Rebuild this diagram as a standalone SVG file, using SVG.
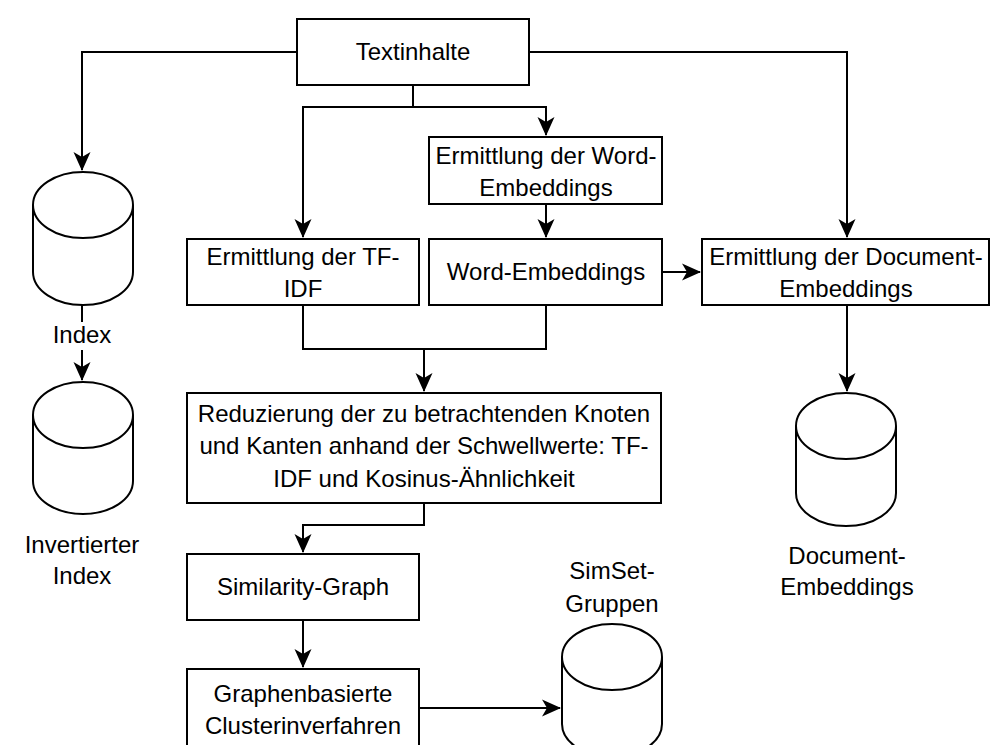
<svg xmlns="http://www.w3.org/2000/svg" width="991" height="745" viewBox="0 0 991 745">
<style>
  .box { fill: #fff; stroke: #000; stroke-width: 2; }
  .cyl { fill: #fff; stroke: #000; stroke-width: 2; }
  .edge { fill: none; stroke: #000; stroke-width: 2; }
  text { font-family: "Liberation Sans", Arial, sans-serif; font-size: 24px; fill: #000; text-anchor: middle; }
</style>
<defs>
  <marker id="arr" markerUnits="userSpaceOnUse" viewBox="0 0 19 18" markerWidth="19" markerHeight="18" refX="18" refY="9" orient="auto">
    <path d="M0,0.5 L19,9 L0,17.5 L5,9 Z" fill="#000"/>
  </marker>
</defs>
<rect width="991" height="745" fill="#fff"/>

<g id="connectors">
  <path class="edge" d="M297,52 H82 V170" marker-end="url(#arr)"/>
  <path class="edge" d="M413,85 V107 H303 V237" marker-end="url(#arr)"/>
  <path class="edge" d="M413,107 H546 V135" marker-end="url(#arr)"/>
  <path class="edge" d="M529,52 H847 V237" marker-end="url(#arr)"/>
  <path class="edge" d="M546,204 V237" marker-end="url(#arr)"/>
  <path class="edge" d="M662,272 H700" marker-end="url(#arr)"/>
  <path class="edge" d="M82,305 V380" marker-end="url(#arr)"/>
  <path class="edge" d="M303,305 V349 H424 V391" marker-end="url(#arr)"/>
  <path class="edge" d="M546,305 V349 H424"/>
  <path class="edge" d="M847,305 V391" marker-end="url(#arr)"/>
  <path class="edge" d="M424,503 V525 H303 V552" marker-end="url(#arr)"/>
  <path class="edge" d="M303,620 V667" marker-end="url(#arr)"/>
  <path class="edge" d="M419,708 H560" marker-end="url(#arr)"/>
  <rect x="52" y="322" width="60" height="28" fill="#fff"/>
  <text x="82" y="343">Index</text>
</g>

<g id="textinhalte">
  <rect class="box" x="297" y="19" width="232" height="66"/>
  <text x="413" y="60">Textinhalte</text>
</g>

<g id="index-db">
  <path class="cyl" d="M33,205 A50,33 0 0 1 133,205 V272 A50,33 0 0 1 33,272 Z"/>
  <path class="edge" d="M33,205 A50,33 0 0 0 133,205"/>
</g>

<g id="inv-index-db">
  <path class="cyl" d="M33,415 A50,33 0 0 1 133,415 V481 A50,33 0 0 1 33,481 Z"/>
  <path class="edge" d="M33,415 A50,33 0 0 0 133,415"/>
  <text x="82" y="553">Invertierter</text>
  <text x="82" y="584">Index</text>
</g>

<g id="erm-word">
  <rect class="box" x="429" y="137" width="233" height="67"/>
  <text x="546" y="164">Ermittlung der Word-</text>
  <text x="546" y="196">Embeddings</text>
</g>

<g id="erm-tfidf">
  <rect class="box" x="187" y="239" width="232" height="66"/>
  <text x="303" y="265">Ermittlung der TF-</text>
  <text x="303" y="297">IDF</text>
</g>

<g id="word-emb">
  <rect class="box" x="429" y="239" width="233" height="66"/>
  <text x="546" y="280">Word-Embeddings</text>
</g>

<g id="erm-doc">
  <rect class="box" x="702" y="239" width="287" height="66"/>
  <text x="846" y="265">Ermittlung der Document-</text>
  <text x="846" y="297">Embeddings</text>
</g>

<g id="doc-db">
  <path class="cyl" d="M796,426 A50,33 0 0 1 896,426 V493 A50,33 0 0 1 796,493 Z"/>
  <path class="edge" d="M796,426 A50,33 0 0 0 896,426"/>
  <text x="847" y="564">Document-</text>
  <text x="847" y="595">Embeddings</text>
</g>

<g id="reduzierung">
  <rect class="box" x="187" y="393" width="474" height="110"/>
  <text x="424" y="422">Reduzierung der zu betrachtenden Knoten</text>
  <text x="424" y="454">und Kanten anhand der Schwellwerte: TF-</text>
  <text x="424" y="487">IDF und Kosinus-Ähnlichkeit</text>
</g>

<g id="similarity">
  <rect class="box" x="187" y="554" width="232" height="66"/>
  <text x="303" y="595">Similarity-Graph</text>
</g>

<g id="graphen">
  <rect class="box" x="187" y="669" width="232" height="90"/>
  <text x="303" y="702">Graphenbasierte</text>
  <text x="303" y="734">Clusterinverfahren</text>
</g>

<g id="simset-db">
  <path class="cyl" d="M562,657 A50,33 0 0 1 662,657 V724 A50,33 0 0 1 562,724 Z"/>
  <path class="edge" d="M562,657 A50,33 0 0 0 662,657"/>
  <text x="612" y="579">SimSet-</text>
  <text x="612" y="612">Gruppen</text>
</g>
</svg>
